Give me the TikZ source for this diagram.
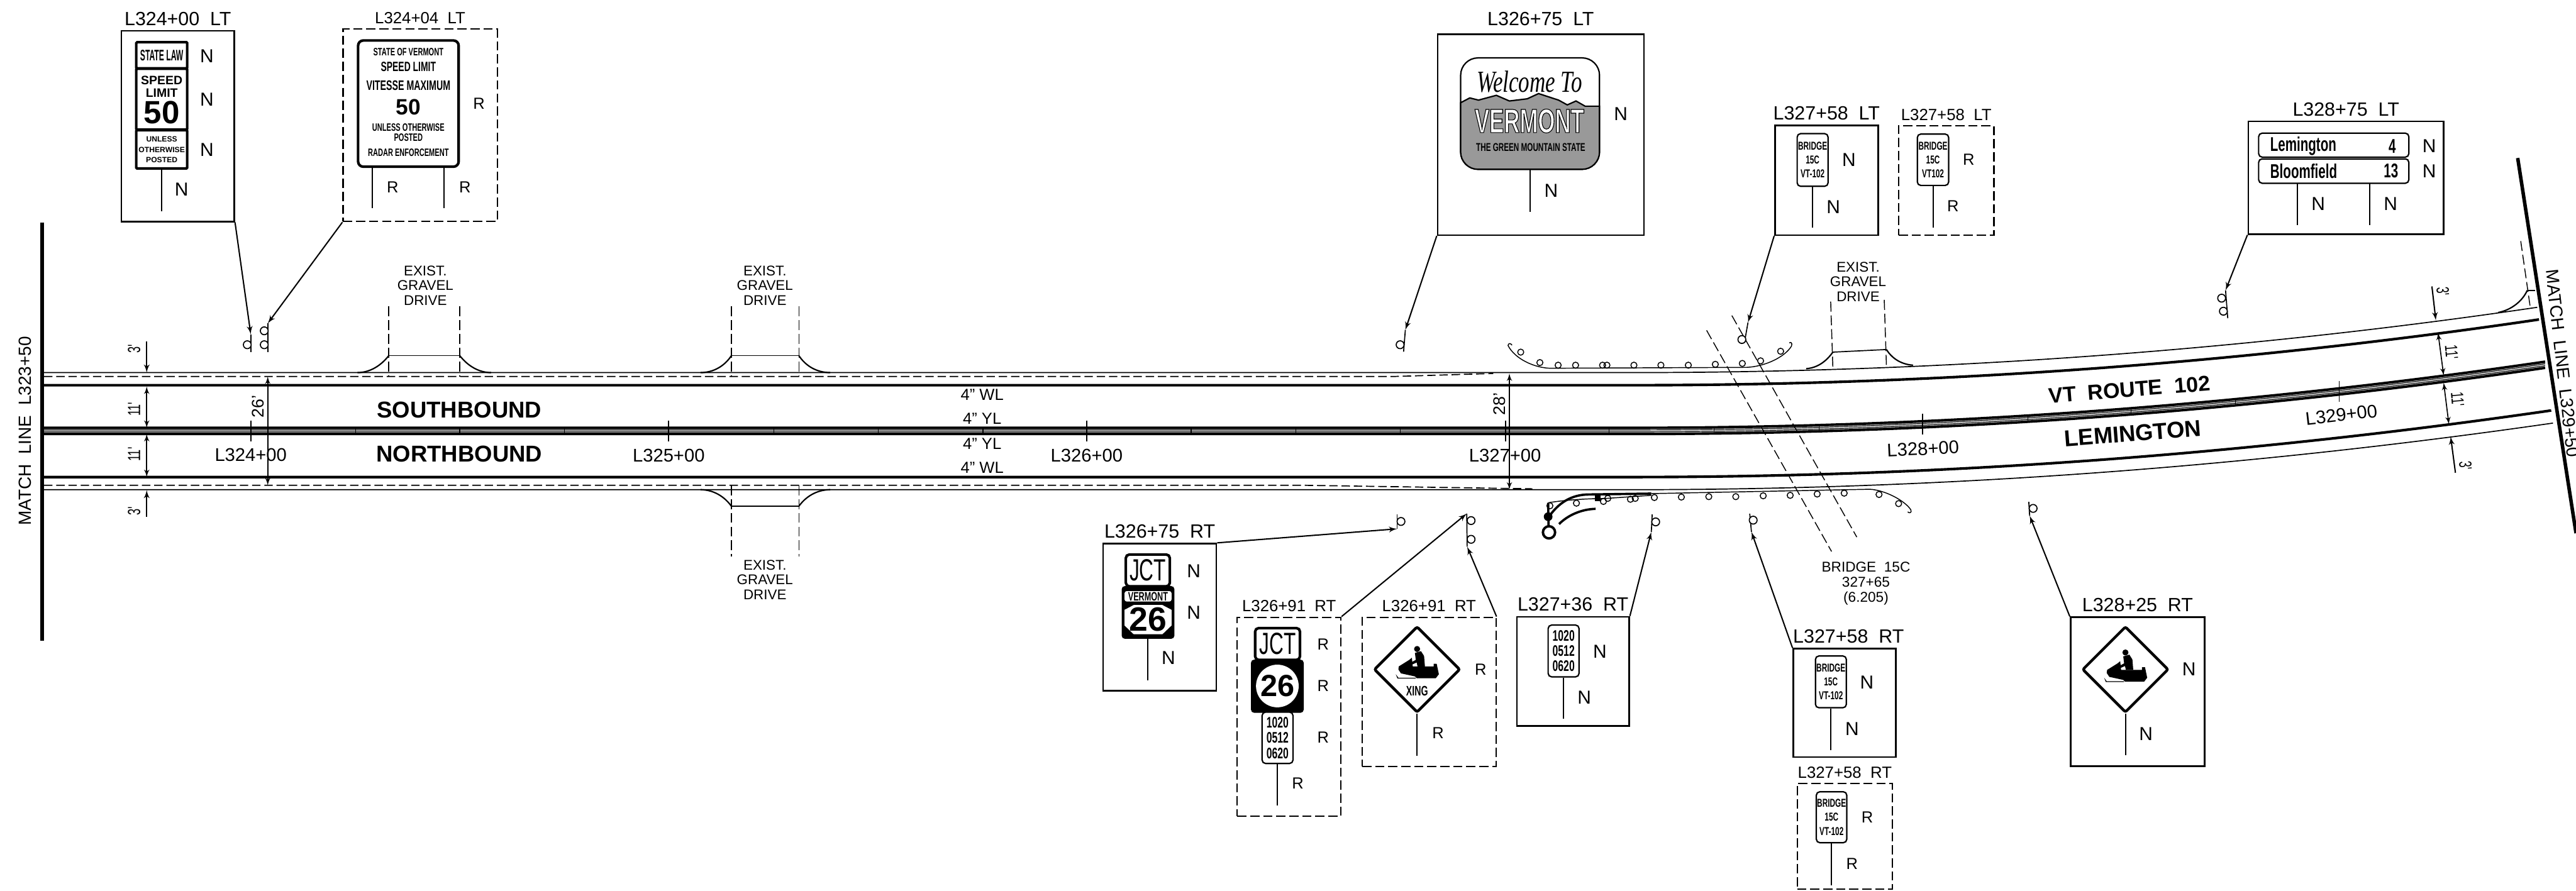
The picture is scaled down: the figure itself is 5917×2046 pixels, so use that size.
\documentclass[tikz,border=0pt]{standalone}
\usepackage{fontspec}
\usepackage{tikz}
\usetikzlibrary{positioning}
\usetikzlibrary{shapes,arrows}
\setmainfont{Liberation Sans}
\newfontfamily\signfont[FakeStretch=0.65]{Liberation Sans}
\newfontfamily\tightfont[FakeStretch=0.5]{Liberation Sans}
\newfontfamily\welcomefont[FakeStretch=0.72]{Liberation Serif}
\definecolor{signgray}{HTML}{999999}
\newcommand{\sizept}[1]{\fontsize{#1}{#1}\selectfont}
\newcommand{\snowsled}[2]{\begin{scope}[shift={(#1,#2)}]
        \fill (0,-39) circle (7);
        \fill (-5,-30) -- (9,-34) -- (16,-23) -- (18,1) -- (1,1) -- (-1,-8) -- (-12,-3) -- (-14,-8) -- (-3,-14) -- cycle;
        \fill (-42,1) -- (-18,-14) -- (-12,-19) -- (-10,1) -- (38,1) -- (38,-5) -- (45,-5) -- (50,19) -- (43,28) -- (-1,28) -- (-5,24) -- (-37,17) -- (-43,8) -- cycle;
        \fill (-49,19) -- (-43,27) -- (-3,27) -- (-3,29) -- (-45,29) -- cycle;
        \end{scope}}
\tikzstyle{signbox} = [rectangle, draw, line width=1.05pt, inner sep=0pt]
\tikzstyle{dashbox} = [signbox, line width=0.85pt, dash pattern=on 6pt off 2.5pt]
\tikzstyle{tag} = [inner sep=0pt, font=\sizept{12.5}]
\tikzstyle{dashtag} = [inner sep=0pt, font=\sizept{10.6}]
\tikzstyle{flag} = [inner sep=0pt, font=\sizept{12.3}]
\tikzstyle{dashflag} = [inner sep=0pt, font=\sizept{10.5}]
\tikzstyle{plate} = [rectangle, draw, fill=white, rounded corners=0.8mm, line width=0.9pt, inner sep=0pt, align=center]
\tikzstyle{heavyplate} = [plate, line width=1.7pt]
\tikzstyle{blackplate} = [plate, fill=black, rounded corners=0.6mm]
\tikzstyle{bridgeplate} = [plate, font=\signfont\bfseries\fontsize{7.5}{9.1}\selectfont]
\tikzstyle{dateplate} = [plate, font=\signfont\bfseries\fontsize{10}{10}\selectfont]
\tikzstyle{signtext} = [inner sep=0pt, font=\bfseries\sizept{5}]
\tikzstyle{narrowtext} = [inner sep=0pt, font=\signfont\bfseries\sizept{7}]
\tikzstyle{warnsign} = [diamond, aspect=1, draw, fill=white, line width=1.8pt, inner sep=0pt, rounded corners=0.4mm, minimum size=19.8mm]
\tikzstyle{bolt} = [circle, draw, line width=0.7pt, inner sep=0pt, minimum size=1.8mm, fill=white,
                path picture={\fill (path picture bounding box.center) circle (0.4pt);}]
\tikzstyle{railbolt} = [circle, draw, line width=0.6pt, inner sep=0pt, minimum size=1.4mm]
\tikzstyle{line} = [draw, line width=0.85pt, -latex']
\tikzstyle{dimline} = [draw, line width=0.7pt, latex'-latex']
\tikzstyle{stem} = [draw, line width=0.7pt]
\tikzstyle{signpost} = [draw, line width=0.8pt]
\tikzstyle{edge} = [draw, line width=0.7pt]
\tikzstyle{lane} = [draw, line width=1.7pt]
\tikzstyle{stripe} = [draw, line width=0.5pt]
\tikzstyle{limit} = [draw, line width=2.3pt]
\tikzstyle{rail} = [draw, line width=0.6pt]
\tikzstyle{heavyrail} = [draw, line width=1.5pt]
\tikzstyle{flare} = [draw, line width=0.9pt]
\tikzstyle{roaddash} = [draw, line width=0.7pt, dash pattern=on 5.5pt off 2.5pt]
\tikzstyle{drivedash} = [draw, line width=0.6pt, dash pattern=on 6.5pt off 2.5pt]
\tikzstyle{drive} = [inner sep=0pt, align=center, font=\fontsize{9.2}{9.7}\selectfont]
\tikzstyle{station} = [inner sep=0pt, font=\sizept{12}]
\tikzstyle{dimtext} = [inner sep=0pt, font=\signfont\sizept{11.5}]
\tikzstyle{widthtext} = [inner sep=0pt, font=\sizept{11}]
\tikzstyle{marking} = [inner sep=0pt, font=\sizept{10.5}]
\tikzstyle{roadname} = [inner sep=0pt, font=\bfseries\sizept{15}]

\begin{document}
\begin{tikzpicture}[x=0.1mm,y=-0.1mm]
        \useasboundingbox (0,0) rectangle (5917,2046);
        \path[limit] (97,511) -- (97,1472);
        \path[limit] (5783,363) -- (5917,1225);
        \node[rotate=90, inner sep=0pt, font=\sizept{11.5}](matchleft) at (58,990){MATCH~~LINE~~L323+50};
        \node[rotate=-83.5, inner sep=0pt, font=\sizept{11.5}](matchright) at (5886,835){MATCH~~LINE~~L329+50};

        \path[edge] (101,856) -- (3750,856) .. controls (4450,856) and (5150,806) .. (5828,706);
        \path[lane] (101,885) -- (3750,885) .. controls (4450,885) and (5150,835) .. (5832,734);
        \path[lane] (101,983) -- (3750,983) .. controls (4450,983) and (5150,933) .. (5846,831);
        \path[stripe] (101,988) -- (3750,988) .. controls (4450,988) and (5150,938) .. (5846,836);
        \path[stripe] (101,992) -- (3750,992) .. controls (4450,992) and (5150,942) .. (5846,840);
        \path[lane] (101,997) -- (3750,997) .. controls (4450,997) and (5150,947) .. (5846,845);
        \path[lane] (101,1096) -- (3750,1096) .. controls (4450,1096) and (5150,1046) .. (5860,943);
        \path[edge] (101,1125) -- (3750,1125) .. controls (4450,1125) and (5150,1075) .. (5864,972);
        \path[roaddash] (101,865) -- (3200,865) -- (3430,858);
        \path[roaddash] (101,1115) -- (3000,1115) -- (3520,1123);

        \foreach \x/\y in {817/990,1056/990,1296/990,1777/990,2017/990,2258/990,2736/990,2976/990,3216/990,3696/990,3937/989,4178/984,4658/962,4895/945,5135/924}
            \path[stripe] (\x,\y-8) -- (\x,\y+8);
        \foreach \x/\y in {576/990,1536/990,2496/990,3458/990,4416/974,5373/899}
            \path[stem] (\x,\y-24) -- (\x,\y+24);

        \node[station](st324) at (576,1045){L324+00};
        \node[station](st325) at (1536,1047){L325+00};
        \node[station](st326) at (2496,1047){L326+00};
        \node[station](st327) at (3457,1046){L327+00};
        \node[station, rotate=2.6](st328) at (4417,1031){L328+00};
        \node[station, rotate=6.5](st329) at (5378,953){L329+00};
        \node[roadname](south) at (1055,942){SOUTHBOUND};
        \node[roadname](north) at (1055,1043){NORTHBOUND};
        \node[roadname, rotate=4.5, font=\bfseries\sizept{14}](route) at (4891,895){VT~~ROUTE~~102};
        \node[roadname, rotate=4.5](lemington) at (4899,996){LEMINGTON};
        \node[marking](wla) at (2256,907){4" WL};
        \node[marking](yla) at (2256,962){4" YL};
        \node[marking](ylb) at (2256,1020){4" YL};
        \node[marking](wlb) at (2256,1075){4" WL};

        \coordinate (da1) at (337,784); \coordinate (da2) at (337,856);
        \coordinate (db1) at (337,888); \coordinate (db2) at (337,983);
        \coordinate (dc1) at (337,997); \coordinate (dc2) at (337,1096);
        \coordinate (dd1) at (337,1187); \coordinate (dd2) at (337,1126);
        \coordinate (de1) at (615,865); \coordinate (de2) at (615,1115);
        \coordinate (df1) at (3467,858); \coordinate (df2) at (3467,1125);
        \coordinate (dg1) at (5586,658); \coordinate (dg2) at (5595,736);
        \coordinate (dh1) at (5600,764); \coordinate (dh2) at (5613,863);
        \coordinate (di1) at (5613,879); \coordinate (di2) at (5625,975);
        \coordinate (dj1) at (5640,1086); \coordinate (dj2) at (5629,1003);
        \path[line] (da1) -- (da2);
        \path[dimline] (db1) -- (db2);
        \path[dimline] (dc1) -- (dc2);
        \path[line] (dd1) -- (dd2);
        \path[dimline] (de1) -- (de2);
        \path[dimline] (df1) -- (df2);
        \path[line] (dg1) -- (dg2);
        \path[dimline] (dh1) -- (dh2);
        \path[dimline] (di1) -- (di2);
        \path[line] (dj1) -- (dj2);
        \node[dimtext, rotate=90](wa) at (308,802){3'};
        \node[dimtext, rotate=90](wb) at (308,940){11'};
        \node[dimtext, rotate=90](wc) at (308,1044){11'};
        \node[dimtext, rotate=90](wd) at (308,1174){3'};
        \node[widthtext, rotate=90](we) at (593,934){26'};
        \node[widthtext, rotate=90](wf) at (3444,928){28'};
        \node[dimtext, rotate=-85](wg) at (5611,669){3'};
        \node[dimtext, rotate=-85](wh) at (5631,809){11'};
        \node[dimtext, rotate=-85](wi) at (5645,917){11'};
        \node[dimtext, rotate=-85](wj) at (5663,1069){3'};

        \path[drivedash] (893,704) -- (893,865);
        \path[drivedash] (1056,704) -- (1056,865);
        \path[stem] (893,817) -- (1056,817);
        \path[flare] (893,817) .. controls (875,840) and (850,856) .. (821,856);
        \path[flare] (1056,817) .. controls (1074,840) and (1099,856) .. (1128,856);
        \node[drive](drivea) at (977,656){EXIST.\\GRAVEL\\DRIVE};
        \path[drivedash] (1680,704) -- (1680,865);
        \path[drivedash] (1835,704) -- (1835,865);
        \path[stem] (1680,817) -- (1835,817);
        \path[flare] (1680,817) .. controls (1665,840) and (1640,856) .. (1609,856);
        \path[flare] (1835,817) .. controls (1850,840) and (1875,856) .. (1907,856);
        \node[drive](driveb) at (1757,656){EXIST.\\GRAVEL\\DRIVE};
        \path[drivedash] (1680,1115) -- (1680,1279);
        \path[drivedash] (1835,1115) -- (1835,1279);
        \path[stem] (1680,1163) -- (1835,1163);
        \path[flare] (1680,1163) .. controls (1665,1142) and (1640,1125) .. (1609,1125);
        \path[flare] (1835,1163) .. controls (1850,1142) and (1875,1125) .. (1907,1125);
        \node[drive](drivec) at (1757,1332){EXIST.\\GRAVEL\\DRIVE};
        \path[drivedash] (4205,693) -- (4210,846);
        \path[drivedash] (4328,689) -- (4333,840);
        \path[stem] (4210,809) -- (4333,803);
        \path[flare] (4210,809) .. controls (4195,830) and (4175,845) .. (4149,847);
        \path[flare] (4333,803) .. controls (4345,822) and (4365,837) .. (4394,839);
        \node[drive](drived) at (4268,647){EXIST.\\GRAVEL\\DRIVE};
        \path[drivedash] (5790,554) -- (5812,707);
        \path[stem] (5805,667) -- (5823,667);
        \path[flare] (5805,667) .. controls (5795,690) and (5770,712) .. (5738,718);

        \path[drivedash] (3920,759) -- (4207,1267);
        \path[drivedash] (3978,725) -- (4265,1234);
        \node[inner sep=0pt, align=center, font=\fontsize{9.3}{9.8}\selectfont](bridge) at (4286,1340){BRIDGE~~15C\\327+65\\(6.205)};

        \path[rail] (3473,793) .. controls (3470,788) and (3464,788) .. (3464,794) .. controls (3480,825) and (3525,845) .. (3560,846) -- (4012,844) .. controls (4055,842) and (4100,820) .. (4115,795) .. controls (4118,787) and (4112,785) .. (4110,788);
        \foreach \i/\x/\y in {1/3493/809,2/3537/833,3/3579/839,4/3619/839,5/3681/839,6/3691/839,7/3753/839,8/3815/839,9/3878/839,10/3940/837,11/4002/835,12/4044/829,13/4090/807}
            \node[railbolt](toprail\i) at (\x,\y){};
        \path[rail] (3556,1155) .. controls (3600,1148) and (3640,1146) .. (3690,1145) -- (3793,1138);
        \path[heavyrail] (3558,1187) .. controls (3580,1155) and (3610,1136) .. (3650,1136) -- (3793,1134);
        \path[rail] (3793,1134) -- (4295,1124) .. controls (4330,1126) and (4375,1150) .. (4389,1171) .. controls (4392,1178) and (4386,1180) .. (4382,1176);
        \path[heavyrail] (3581,1204) .. controls (3600,1185) and (3630,1170) .. (3665,1169);
        \path[heavyrail] (3556,1155) -- (3557,1209);
        \fill (3556,1187) circle (10);
        \fill (3663,1138) rectangle (3677,1152);
        \node[circle, draw, line width=1.6pt, inner sep=0pt, minimum size=2.8mm, fill=white](endpost) at (3558,1223){};
        \foreach \i/\x/\y in {1/3560/1162,2/3621/1156,3/3683/1152,4/3693/1145,5/3745/1147,6/3756/1145,7/3800/1143,8/3862/1142,9/3925/1141,10/3987/1141,11/4050/1139,12/4112/1138,13/4174/1135,14/4236/1133,15/4316/1136,16/4361/1157}
            \node[railbolt](lowrail\i) at (\x,\y){};

        \node[signbox, minimum width=25.9mm, minimum height=43.8mm](boxa) at (408.5,290){};
        \node[tag, above=1mm of boxa](taga){L324+00~~LT};
        \node[heavyplate, rounded corners=0.2mm, minimum width=11.7mm, minimum height=6mm, font=\tightfont\bfseries\sizept{10}](lawsign) at (371.5,127){STATE LAW};
        \node[heavyplate, rounded corners=0.2mm, minimum width=11.7mm, minimum height=14mm](speedsign) at (371.5,228){};
        \node[heavyplate, rounded corners=0.2mm, minimum width=11.7mm, minimum height=8.8mm](unlesssign) at (371.5,343){};
        \node[inner sep=0pt, font=\bfseries\sizept{8}](speeda) at (371.5,185){SPEED};
        \node[inner sep=0pt, font=\bfseries\sizept{8}](speedb) at (371.5,214){LIMIT};
        \node[inner sep=0pt, font=\bfseries\sizept{21}](speedc) at (371.5,258){50};
        \node[signtext](unlessa) at (371.5,320){UNLESS};
        \node[signtext](unlessb) at (371.5,344){OTHERWISE};
        \node[signtext](unlessc) at (371.5,367){POSTED};
        \path[signpost] (unlesssign.south) -- ++(0,96);
        \node[flag](fa1) at (475,129){N};
        \node[flag](fa2) at (475,229){N};
        \node[flag](fa3) at (475,344){N};
        \node[flag](fa4) at (417,435){N};
        \coordinate (tipa) at (576,768);
        \path[line] (boxa.south east) -- (tipa);
        \path[stem] (tipa) -- ++(0,41);
        \node[bolt](bolta) at (568,792){};

        \node[dashbox, minimum width=35.4mm, minimum height=44.2mm](boxb) at (965,288){};
        \node[dashtag, above=1mm of boxb](tagb){L324+04~~LT};
        \node[heavyplate, rounded corners=1.2mm, minimum width=23.1mm, minimum height=29mm](statesign) at (938,238){};
        \node[narrowtext](statea) at (938,120){STATE OF VERMONT};
        \node[narrowtext, font=\signfont\bfseries\sizept{8.8}](stateb) at (938,153){SPEED LIMIT};
        \node[narrowtext, font=\signfont\bfseries\sizept{9}](statec) at (938,196){VITESSE MAXIMUM};
        \node[inner sep=0pt, font=\bfseries\sizept{14.5}](stated) at (938,246){50};
        \node[narrowtext](statee) at (938,293){UNLESS OTHERWISE};
        \node[narrowtext](statef) at (938,316){POSTED};
        \node[narrowtext](stateg) at (938,350){RADAR ENFORCEMENT};
        \coordinate (sba) at (855,383); \coordinate (sbb) at (1020,383);
        \path[signpost] (sba) -- ++(0,95);
        \path[signpost] (sbb) -- ++(0,95);
        \node[dashflag](fb1) at (1100,238){R};
        \node[dashflag](fb2) at (902,430){R};
        \node[dashflag](fb3) at (1068,430){R};
        \coordinate (tipb) at (615,743);
        \path[line] (boxb.south west) -- (tipb);
        \path[stem] (tipb) -- ++(0,66);
        \node[bolt](boltb) at (607,760){};
        \node[bolt](boltc) at (607,792){};

        \node[signbox, minimum width=47.4mm, minimum height=46.1mm](boxc) at (3539,309.5){};
        \node[tag, above=1.7mm of boxc](tagc){L326+75~~LT};
        \node[plate, rounded corners=4mm, minimum width=31.9mm, minimum height=25.6mm](vtsign) at (3514.5,261){};
        \filldraw[fill=signgray, line width=0.9pt] (3355,236) -- (3376,225) -- (3396,230) -- (3437,219) -- (3467,232) -- (3508,227) -- (3534,215) -- (3580,230) -- (3600,241) -- (3620,232) -- (3641,244) -- (3674,244) [rounded corners=4mm] -- (3674,389) -- (3355,389) -- (3355,300) [sharp corners] -- cycle;
        \node[inner sep=0pt, font=\welcomefont\itshape\sizept{20}](welcome) at (3513,188){Welcome To};
        \node[inner sep=0pt, text=white, font=\signfont\bfseries\sizept{22}](vermont) at (3513,278){\special{pdf:code 2 Tr 0.45 w 0 G}VERMONT\special{pdf:code 0 Tr}};
        \node[inner sep=0pt, font=\signfont\bfseries\sizept{7.4}](mountain) at (3516,339){THE GREEN MOUNTAIN STATE};
        \path[signpost] (vtsign.south) -- ++(0,96);
        \node[flag](fc1) at (3723,262){N};
        \node[flag](fc2) at (3563,438){N};
        \coordinate (tipc) at (3228,758);
        \path[line] (boxc.south west) -- (tipc);
        \path[stem] (tipc) -- ++(-4,50);
        \node[bolt](boltd) at (3216,792){};

        \node[signbox, minimum width=23.7mm, minimum height=25.2mm](boxd) at (4195.5,414){};
        \node[tag, above=1mm of boxd](tagd){L327+58~~LT};
        \node[bridgeplate, minimum width=7.1mm, minimum height=12.1mm](bridgea) at (4163.5,367.5){BRIDGE\\15C\\VT-102};
        \path[signpost] (bridgea.south) -- ++(0,94);
        \node[flag](fd1) at (4247,367){N};
        \node[flag](fd2) at (4211,475){N};
        \coordinate (tipd) at (4015,741);
        \path[line] (boxd.south west) -- (tipd);
        \path[stem] (tipd) -- ++(-7,40);
        \node[bolt](bolte) at (4001,780){};

        \node[dashbox, minimum width=21.9mm, minimum height=25.1mm](boxe) at (4470.5,414.5){};
        \node[dashtag, above=1mm of boxe](tage){L327+58~~LT};
        \node[bridgeplate, minimum width=7.2mm, minimum height=11.8mm](bridgeb) at (4440,367){BRIDGE\\15C\\VT102};
        \path[signpost] (bridgeb.south) -- ++(0,96);
        \node[dashflag](fe1) at (4522,367){R};
        \node[dashflag](fe2) at (4486,474){R};

        \node[signbox, minimum width=44.9mm, minimum height=25.9mm](boxf) at (5388.5,408.5){};
        \node[tag, above=1mm of boxf](tagf){L328+75~~LT};
        \node[plate, minimum width=34.5mm, minimum height=5.5mm](platea) at (5360.5,333.5){};
        \node[plate, minimum width=34.5mm, minimum height=5.6mm](plateb) at (5360.5,393){};
        \node[inner sep=0pt, anchor=west, font=\signfont\bfseries\sizept{13}](lemsign) at (5214,336){Lemington};
        \node[inner sep=0pt, font=\signfont\bfseries\sizept{13}](lemdist) at (5495,336){4};
        \node[inner sep=0pt, anchor=west, font=\signfont\bfseries\sizept{13}](bloomsign) at (5214,393){Bloomfield};
        \node[inner sep=0pt, font=\signfont\bfseries\sizept{13}](bloomdist) at (5492,393){13};
        \coordinate (sfa) at (5277,421); \coordinate (sfb) at (5443,421);
        \path[signpost] (sfa) -- ++(0,96);
        \path[signpost] (sfb) -- ++(0,96);
        \node[flag](ff1) at (5580,335){N};
        \node[flag](ff2) at (5580,393){N};
        \node[flag](ff3) at (5325,469){N};
        \node[flag](ff4) at (5491,469){N};
        \coordinate (tipf) at (5112,667);
        \path[line] (boxf.south west) -- (tipf);
        \path[stem] (tipf) -- ++(5,64);
        \node[bolt](boltf) at (5103,685){};
        \node[bolt](boltg) at (5107,715){};

        \node[signbox, minimum width=26mm, minimum height=33.8mm](boxg) at (2664,1418){};
        \node[tag, above=1mm of boxg](tagg){L326+75~~RT};
        \node[heavyplate, minimum width=10.1mm, minimum height=7.3mm, font=\signfont\sizept{20}](jcta) at (2636.5,1310.5){JCT};
        \node[blackplate, minimum width=11.8mm, minimum height=11.8mm](shielda) at (2637,1407){};
        \node[plate, rounded corners=0.5mm, draw=none, minimum width=10.8mm, minimum height=2.4mm, font=\signfont\bfseries\sizept{8}](vtplate) at (2637,1370){VERMONT};
        \fill[white] (2583,1401) -- (2604,1390) -- (2670,1390) -- (2691,1401) -- (2691,1437) -- (2670,1457) -- (2604,1457) -- (2583,1437) -- cycle;
        \node[inner sep=0pt, font=\bfseries\sizept{22}](twentysixa) at (2637,1423){26};
        \path[signpost] (shielda.south) -- ++(0,95);
        \node[flag](fg1) at (2742,1312){N};
        \node[flag](fg2) at (2742,1408){N};
        \node[flag](fg3) at (2684,1512){N};
        \coordinate (tipg) at (3209,1215);
        \path[line] (boxg.north east) -- (tipg);
        \path[stem] (tipg) -- ++(0,-33);
        \node[bolt](bolth) at (3218,1198){};

        \node[dashbox, minimum width=23.8mm, minimum height=45.7mm](boxh) at (2961,1646.5){};
        \node[dashtag, above=1mm of boxh](tagh){L326+91~~RT};
        \node[heavyplate, minimum width=10.3mm, minimum height=7.3mm, font=\signfont\sizept{20}](jctb) at (2934.5,1479.5){JCT};
        \node[blackplate, minimum width=11.8mm, minimum height=11.9mm](shieldb) at (2934,1576.5){};
        \node[circle, fill=white, inner sep=0pt, minimum size=9.8mm, font=\bfseries\sizept{20}](twentysixb) at (2934,1576){26};
        \node[dateplate, minimum width=7.1mm, minimum height=11.8mm](datea) at (2934.5,1695){1020\\0512\\0620};
        \path[signpost] (datea.south) -- ++(0,95);
        \node[dashflag](fh1) at (3039,1481){R};
        \node[dashflag](fh2) at (3039,1576){R};
        \node[dashflag](fh3) at (3039,1694){R};
        \node[dashflag](fh4) at (2981,1800){R};
        \coordinate (tiph) at (3369,1180);
        \path[line] (boxh.north east) -- (tiph);
        \path[stem] (tiph) -- (3370,1256);
        \node[bolt](bolti) at (3379,1196){};
        \node[bolt](boltj) at (3379,1239){};

        \node[dashbox, minimum width=30.7mm, minimum height=34.3mm](boxi) at (3282.5,1589.5){};
        \node[dashtag, above=1mm of boxi](tagi){L326+91~~RT};
        \node[warnsign](xinga) at (3255,1538){};
        \snowsled{3255}{1530}
        \node[inner sep=0pt, font=\signfont\bfseries\sizept{9}](xing) at (3255,1588){XING};
        \path[signpost] (xinga.south) -- ++(0,96);
        \node[dashflag](fi1) at (3401,1538){R};
        \node[dashflag](fi2) at (3303,1684){R};
        \coordinate (tipi) at (3370,1256);
        \path[line] (boxi.north east) -- (tipi);

        \node[signbox, minimum width=25.8mm, minimum height=25.1mm](boxj) at (3613,1542.5){};
        \node[tag, above=1mm of boxj](tagj){L327+36~~RT};
        \node[dateplate, minimum width=7.1mm, minimum height=11.9mm](dateb) at (3591.5,1495.5){1020\\0512\\0620};
        \path[signpost] (dateb.south) -- ++(0,95);
        \node[flag](fj1) at (3675,1497){N};
        \node[flag](fj2) at (3639,1603){N};
        \coordinate (tipj) at (3793,1222);
        \path[line] (boxj.north east) -- (tipj);
        \path[stem] (tipj) -- ++(2,-40);
        \node[bolt](boltk) at (3803,1199){};

        \node[signbox, minimum width=23.6mm, minimum height=24.9mm](boxk) at (4237,1614.5){};
        \node[tag, above=1mm of boxk, xshift=0.9mm](tagk){L327+58~~RT};
        \node[bridgeplate, minimum width=7.1mm, minimum height=11.9mm](bridgec) at (4205.5,1566.5){BRIDGE\\15C\\VT-102};
        \path[signpost] (bridgec.south) -- ++(0,96);
        \node[flag](fk1) at (4288,1568){N};
        \node[flag](fk2) at (4254,1674){N};
        \coordinate (tipk) at (4023,1222);
        \path[line] (boxk.north west) -- (tipk);
        \path[stem] (tipk) -- ++(-4,-42);
        \node[bolt](boltl) at (4027,1195){};

        \node[dashbox, minimum width=21.9mm, minimum height=24.3mm](boxl) at (4237.5,1921.5){};
        \node[dashtag, above=1mm of boxl](tagl){L327+58~~RT};
        \node[bridgeplate, minimum width=7mm, minimum height=11.7mm](bridged) at (4207,1877.5){BRIDGE\\15C\\VT-102};
        \path[signpost] (bridged.south) -- ++(0,97);
        \node[dashflag](fl1) at (4289,1878){R};
        \node[dashflag](fl2) at (4254,1984){R};

        \node[signbox, minimum width=30.8mm, minimum height=34.2mm](boxm) at (4910,1589){};
        \node[tag, above=1mm of boxm](tagm){L328+25~~RT};
        \node[warnsign](xingb) at (4882,1538){};
        \snowsled{4882}{1538}
        \path[signpost] (xingb.south) -- ++(0,95);
        \node[flag](fm1) at (5028,1538){N};
        \node[flag](fm2) at (4929,1686){N};
        \coordinate (tipm) at (4662,1185);
        \path[line] (boxm.north west) -- (tipm);
        \path[stem] (tipm) -- ++(-2,-32);
        \node[bolt](boltm) at (4670,1168){};
\end{tikzpicture}
\end{document}
